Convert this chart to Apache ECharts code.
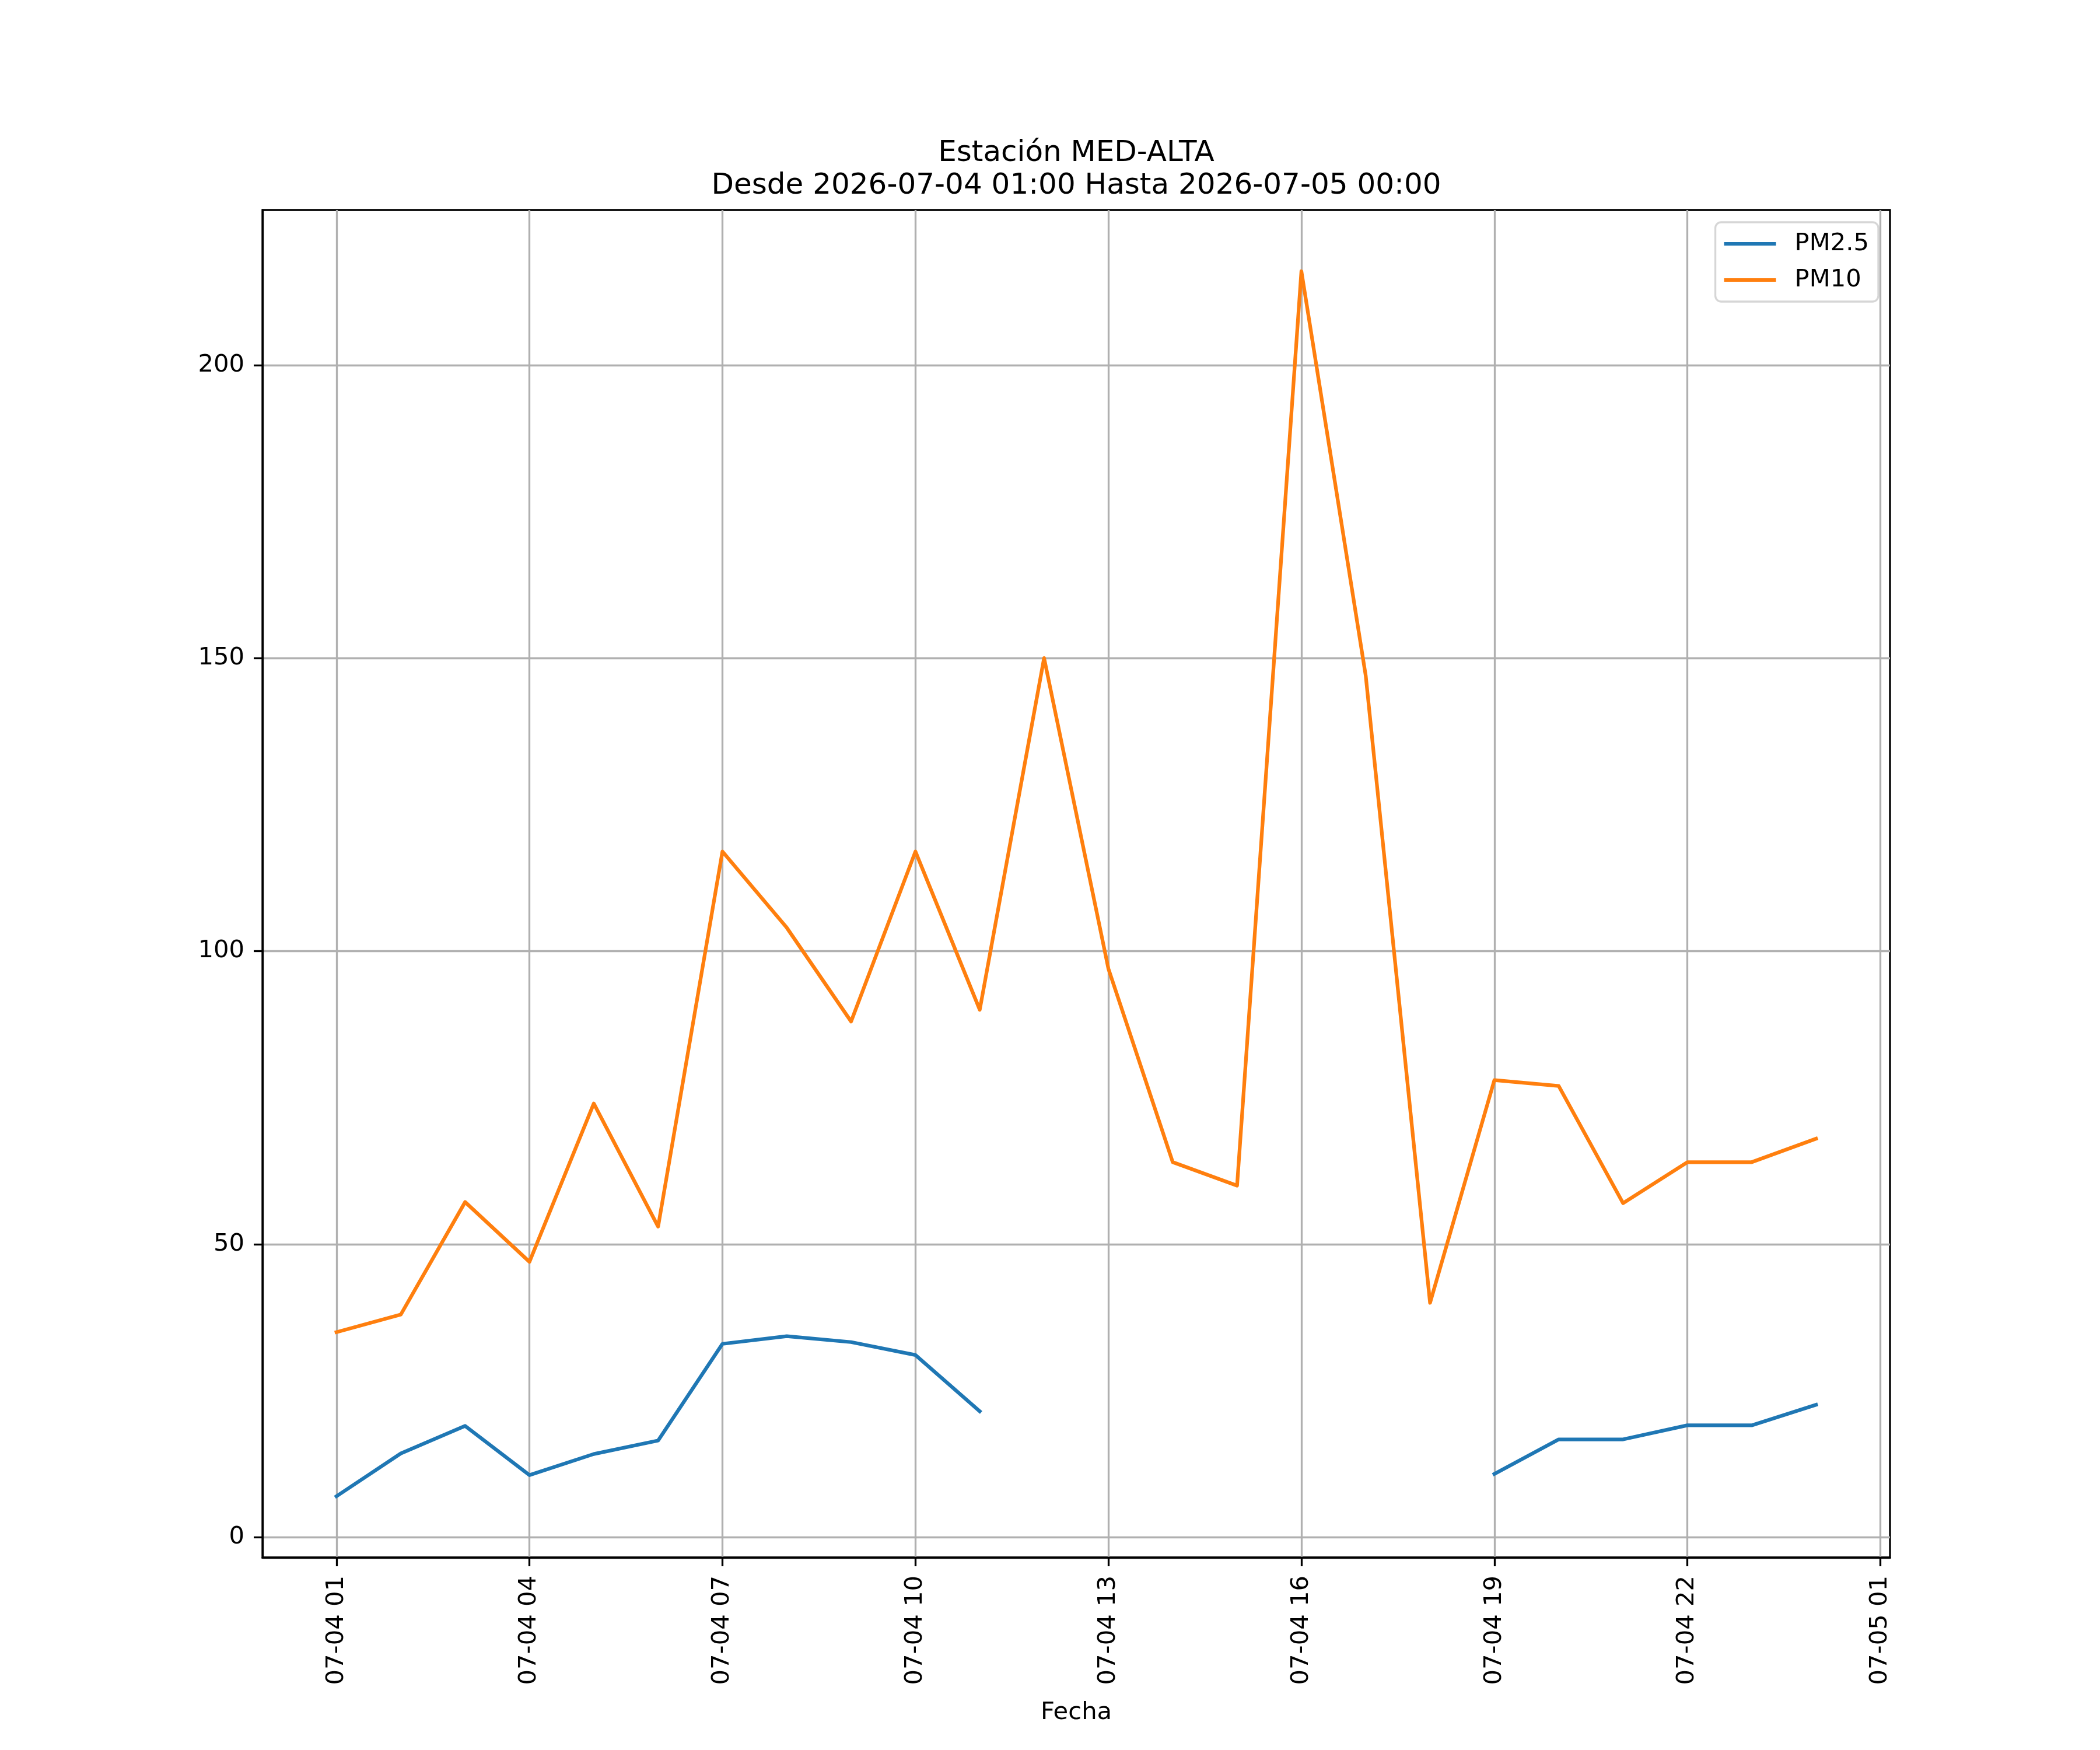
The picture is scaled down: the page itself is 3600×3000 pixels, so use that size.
<!DOCTYPE html>
<html>
<head>
<meta charset="utf-8">
<script src="https://cdn.jsdelivr.net/npm/echarts@6/dist/echarts.min.js"></script>
<style>
  html, body { margin: 0; padding: 0; background: #fff; }
  #chart { width: 3600px; height: 3000px; }
</style>
</head>
<body>
<div id="chart"></div>
<script>
// horas desde 2026-07-04 00:00
var hours = [1, 2, 3, 4, 5, 6, 7, 8, 9, 10, 11, 12, 13, 14, 15, 16, 17, 18, 19, 20, 21, 22, 23, 24];
var pm25 = [7, 14.3, 19, 10.6, 14.2, 16.5, 33, 34.3, 33.3, 31.1, 21.5, null, null, null, null, null, null, null, 10.8, 16.7, 16.7, 19.1, 19.1, 22.6];
var pm10 = [35, 38, 57.2, 47, 74, 53, 117, 104, 88, 117, 90, 150, 97, 64, 60, 216, 147, 40, 78, 77, 57, 64, 64, 68];

var xTickValues = [1, 4, 7, 10, 13, 16, 19, 22, 25];
var xTickLabels = ['07-04 01', '07-04 04', '07-04 07', '07-04 10', '07-04 13', '07-04 16', '07-04 19', '07-04 22', '07-05 01'];
var yTickValues = [0, 50, 100, 150, 200];

var titleLines = ['Estación MED-ALTA', 'Desde 2026-07-04 01:00 Hasta 2026-07-05 00:00'];

// margenes automaticos de 5%
var allY = pm25.concat(pm10).filter(function (v) { return v !== null; });
var yLo = Math.min.apply(null, allY), yHi = Math.max.apply(null, allY);
var yPad = (yHi - yLo) * 0.05;
var xLo = hours[0], xHi = hours[hours.length - 1];
var xPad = (xHi - xLo) * 0.05;

function pairs(vals) {
    return hours.map(function (h, i) { return [h, vals[i] === null ? '-' : vals[i]]; });
}

var font = 'DejaVu Sans';
var gridColor = '#b0b0b0';

var chart = echarts.init(document.getElementById('chart'));
var option = {
    backgroundColor: '#fff',
    animation: false,
    textStyle: { fontFamily: font },
    graphic: [
        { type: 'text', x: 1845, y: 263, style: { text: titleLines[0], font: '50px "DejaVu Sans"', fill: '#000', align: 'center', verticalAlign: 'middle' } },
        { type: 'text', x: 1845, y: 319, style: { text: titleLines[1], font: '50px "DejaVu Sans"', fill: '#000', align: 'center', verticalAlign: 'middle' } }
    ],
    grid: {
        left: 450, right: 360, top: 360, bottom: 330,
        show: true, borderColor: '#000', borderWidth: 3.3, backgroundColor: 'transparent'
    },
    legend: {
        data: ['PM2.5', 'PM10'],
        orient: 'vertical',
        right: 380, top: 381,
        icon: 'rect',
        itemWidth: 89, itemHeight: 6,
        itemGap: 20,
        padding: [16, 16, 16, 15],
        backgroundColor: '#fff',
        borderColor: '#d6d6d6', borderWidth: 3.3, borderRadius: 10,
        textStyle: { fontFamily: font, fontSize: 41.7, color: '#000', padding: [0, 0, 0, 27], lineHeight: 42 }
    },
    xAxis: {
        type: 'value',
        min: xLo - xPad, max: xHi + xPad,
        name: 'Fecha', nameLocation: 'middle', nameGap: 245,
        nameTextStyle: { fontFamily: font, fontSize: 41.7, color: '#000' },
        axisLine: { show: true, onZero: false, lineStyle: { color: '#000', width: 3.3 } },
        axisTick: { show: true, customValues: xTickValues, length: 15, lineStyle: { color: '#000', width: 3.3 } },
        axisLabel: {
            customValues: xTickValues, rotate: 90, margin: 31,
            fontFamily: font, fontSize: 41.7, color: '#000',
            formatter: function (v) { return xTickLabels[xTickValues.indexOf(v)]; }
        },
        splitLine: { show: true, lineStyle: { color: gridColor, width: 3.3 } }
    },
    yAxis: {
        type: 'value',
        min: yLo - yPad, max: yHi + yPad,
        axisLine: { show: true, onZero: false, lineStyle: { color: '#000', width: 3.3 } },
        axisTick: { show: true, customValues: yTickValues, length: 15, lineStyle: { color: '#000', width: 3.3 } },
        axisLabel: {
            customValues: yTickValues, margin: 31,
            fontFamily: font, fontSize: 41.7, color: '#000'
        },
        splitLine: { show: true, lineStyle: { color: gridColor, width: 3.3 } }
    },
    series: [
        {
            name: 'PM2.5', type: 'line', data: pairs(pm25),
            symbol: 'none', connectNulls: false,
            color: '#1f77b4',
            lineStyle: { color: '#1f77b4', width: 6.25, cap: 'square', join: 'round' }
        },
        {
            name: 'PM10', type: 'line', data: pairs(pm10),
            symbol: 'none',
            color: '#ff7f0e',
            lineStyle: { color: '#ff7f0e', width: 6.25, cap: 'square', join: 'round' }
        }
    ]
};
chart.setOption(option);
</script>
</body>
</html>
